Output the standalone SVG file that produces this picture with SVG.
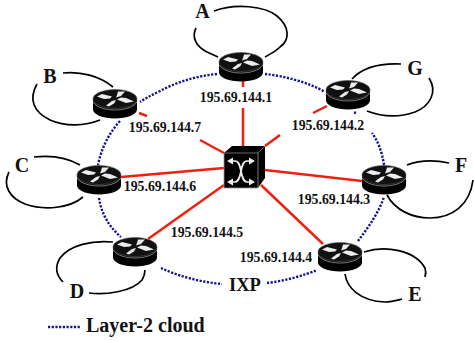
<svg xmlns="http://www.w3.org/2000/svg" xmlns:xlink="http://www.w3.org/1999/xlink" width="474" height="341" viewBox="0 0 474 341">
<style>
text{font-family:"Liberation Serif","Times New Roman",serif;font-weight:bold;fill:#111}
.ip{font-size:13.8px;text-anchor:middle}
.nm{font-size:20px;text-anchor:middle}
.red{fill:none;stroke:#f02010;stroke-width:2.5}
.cloud{fill:none;stroke:#14148c;stroke-width:2.4;stroke-dasharray:2.2 1.5}
.loop{fill:none;stroke:#000;stroke-width:1.7}
.ar{fill:#ececec}
</style>
<defs>
<g id="router">
<path d="M-22 0V10.500C-22 15.500-12 19.500 0 19.500S22 15.500 22 10.500V0Z" fill="#000"/>
<ellipse cx="0" cy="0" rx="22" ry="9.500" fill="#111" stroke="#555" stroke-width=".6"/>
<path d="M-22 3C-18 9-8 11 0 11S18 9 22 3" fill="none" stroke="#aaa" stroke-width=".7"/>
<path class="ar" d="M-18-2.500L-13-5-3-2.500-5-.5-11 0Z"/>
<path class="ar" d="M3-7.500L10-7.500 6-3 1-1.500 2-4Z"/>
<path class="ar" d="M-6 7.500L-9 6.500-3 2 1 1-1 4.500Z"/>
<path class="ar" d="M19 2.500L11 4 2 .5 6-1.500 11-1Z"/>
</g>
</defs>
<g id="connectors">
<path class="cloud" d="M217 74C195 76 175 83 160 91C152 95 146 98 140 102"/>
<path class="cloud" d="M265 74C285 76 310 83 325 92"/>
<path class="cloud" d="M120 121C108 134 101 150 98 165"/>
<path class="cloud" d="M99 198C101 212 108 226 121 237"/>
<path class="cloud" d="M161 268C178 276 200 282 222 284"/>
<path class="cloud" d="M267 283C285 281 305 275 317 270"/>
<path class="cloud" d="M358 241C368 228 379 212 384 197"/>
<path class="cloud" d="M384 165C382 152 378 141 372 133"/>
<path class="cloud" d="M356 113L353 112"/>
<path class="red" d="M243 81V87M243 108V146"/>
<path class="red" d="M139 113L147 116M200 140L224 153"/>
<path class="red" d="M327 106L313 113M280 135L265 146"/>
<path class="red" d="M121 177L224 168"/>
<path class="red" d="M362 181L265 170"/>
<path class="red" d="M148 239L224 185"/>
<path class="red" d="M323 244L261 185"/>
</g>
<g id="loops">
<path class="loop" d="M214 11C235 3 265 6 277 16C290 27 290 40 280 47C275 52 270 54 265 57"/>
<path class="loop" d="M196 28C191 38 197 47 207 52L218 57"/>
<path class="loop" d="M63 73C80 71 100 76 113 87"/>
<path class="loop" d="M37 84C28 100 34 112 50 120C66 127 85 126 100 120"/>
<path class="loop" d="M34 157C52 155 68 158 80 165"/>
<path class="loop" d="M9 172C2 186 10 198 25 204C45 211 70 208 83 197"/>
<path class="loop" d="M113 242C92 240 70 245 60 258C54 268 57 276 63 282"/>
<path class="loop" d="M89 293C105 295 132 292 142 280C145 275 145 272 145 270"/>
<path class="loop" d="M352 79C362 68 380 63 401 64"/>
<path class="loop" d="M429 78C438 92 430 106 415 112C395 119 380 116 367 111"/>
<path class="loop" d="M407 165C420 160 435 160 449 163"/>
<path class="loop" d="M387 195C395 210 412 218 430 218C452 218 470 205 473 180"/>
<path class="loop" d="M364 252C385 245 415 250 425 268C426 271 426 274 425 277"/>
<path class="loop" d="M345 274C347 288 360 301 385 302C392 302 398 300 402 299"/>
</g>
<g id="node-switch">
<path d="M224 153L232 146H265V178L258 188H224Z" fill="#000"/>
<path d="M224 153H258L265 146" fill="none" stroke="#888" stroke-width=".8"/>
<path d="M224 153V188H258V153" fill="none" stroke="#999" stroke-width=".8"/>
<path d="M232 161H235C243 161 239 181 247 182H250M250 161H247C239 161 243 181 235 182H232" fill="none" stroke="#eee" stroke-width="1.700"/>
<path d="M227 161L233 157.500V164.500ZM255 161L249 157.500V164.500ZM227 182L233 178.500V185.500ZM255 182L249 178.500V185.500Z" fill="#eee"/>
</g>
<g id="node-A"><use xlink:href="#router" href="#router" x="241" y="62"/><text class="nm" x="202.500" y="18">A</text><text class="ip" x="236" y="102">195.69.144.1</text></g>
<g id="node-B"><use xlink:href="#router" href="#router" x="115" y="99"/><text class="nm" x="50" y="83">B</text><text class="ip" x="165" y="132">195.69.144.7</text></g>
<g id="node-C"><use xlink:href="#router" href="#router" x="99" y="175"/><text class="nm" x="22" y="172">C</text><text class="ip" x="160" y="191">195.69.144.6</text></g>
<g id="node-D"><use xlink:href="#router" href="#router" x="135" y="247"/><text class="nm" x="77" y="298">D</text><text class="ip" x="207" y="237">195.69.144.5</text></g>
<g id="node-E"><use xlink:href="#router" href="#router" x="340" y="252"/><text class="nm" x="415" y="301">E</text><text class="ip" x="276" y="262">195.69.144.4</text></g>
<g id="node-F"><use xlink:href="#router" href="#router" x="384" y="175"/><text class="nm" x="461" y="172">F</text><text class="ip" x="334" y="204">195.69.144.3</text></g>
<g id="node-G"><use xlink:href="#router" href="#router" x="348" y="90"/><text class="nm" x="415" y="75">G</text><text class="ip" x="328" y="130">195.69.144.2</text></g>
<text x="229" y="291" style="font-size:18.500px">IXP</text>
<g id="legend"><path class="cloud" d="M48 327H80"/><text x="86" y="332" style="font-size:20px">Layer-2 cloud</text></g>
</svg>
